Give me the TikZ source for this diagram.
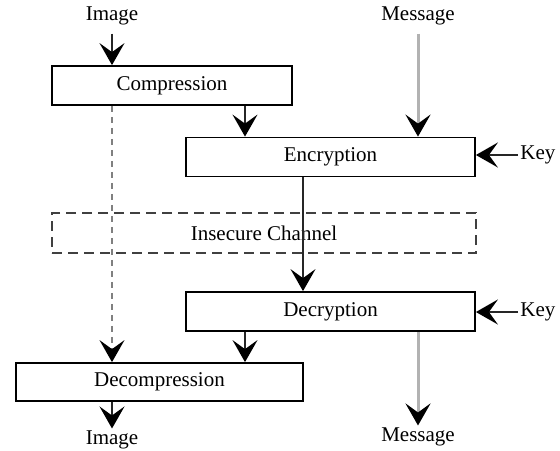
\documentclass[tikz,border=0pt]{standalone}
\usepackage{fontspec}
\setmainfont{Liberation Serif}
\usepackage{tikz}
\usetikzlibrary{arrows.meta, positioning}

\begin{document}
\begin{tikzpicture}[
    x=0.5pt, y=-0.5pt,
    stage/.style={
        draw=black,
        fill=white,
        line width=0.9pt,
        align=center,
        inner sep=0pt,
        minimum height=19.5pt,
        font=\fontsize{10.5}{12}\selectfont
    },
    channel/.style={
        draw=black!75,
        dashed,
        dash pattern=on 5pt off 3pt,
        line width=0.9pt,
        inner sep=0pt,
        minimum width=212pt,
        minimum height=20pt,
        font=\fontsize{10.5}{12}\selectfont
    },
    lbl/.style={
        inner sep=1pt,
        font=\fontsize{10.5}{12}\selectfont
    },
    arrow/.style={
        -{Stealth[length=11pt, width=12.5pt, inset=4.5pt, color=black]},
        line width=0.9pt,
        draw=black!85
    },
    plain/.style={
        -{Stealth[length=11pt, width=12.5pt, inset=4.5pt, color=black]},
        line width=1.5pt,
        draw=black!30
    },
    bypass/.style={
        -{Stealth[length=11pt, width=12.5pt, inset=4.5pt, color=black]},
        line width=0.8pt,
        dashed,
        dash pattern=on 3pt off 2.5pt,
        draw=black!50
    }
]
\useasboundingbox (0,0) rectangle (560,450);

% Columns
\coordinate (colA) at (112,0);
\coordinate (colB) at (245,0);
\coordinate (colC) at (303,0);
\coordinate (colD) at (418,0);

% Nodes
\node (imgin) [lbl] at (112,16) {Image};
\node (msgin) [lbl] at (418,16) {Message};
\node (comp) [stage, minimum width=120pt] at (172,85.5) {Compression};
\node (enc) [stage, minimum width=144.5pt] at (330.5,157) {Encryption};
\node (key1) [lbl, anchor=west] at (518,155) {Key};
\node (chan) [channel] at (264,233) {Insecure Channel};
\node (dec) [stage, minimum width=144.5pt] at (330.5,311.5) {Decryption};
\node (key2) [lbl, anchor=west] at (518,312) {Key};
\node (decomp) [stage, minimum width=143.5pt, minimum height=19pt] at (159.5,382) {Decompression};
\node (imgout) [lbl] at (112,440) {Image};
\node (msgout) [lbl] at (418,437) {Message};

% Paths
\draw [arrow] (imgin.south) ++(0,6) -- (imgin |- comp.north);
\draw [plain] (msgin.south) ++(0,6) -- (msgin |- enc.north);
\draw [arrow] (comp.south -| colB) -- (enc.north -| colB);
\draw [arrow] (key1.west) -- (enc.east |- key1.west);
\draw [arrow] (enc.south -| colC) -- (dec.north -| colC);
\draw [arrow] (key2.west) -- (dec.east |- key2.west);
\draw [arrow] (dec.south -| colB) -- (decomp.north -| colB);
\draw [bypass] (comp.south -| colA) -- (decomp.north -| colA);
\draw [arrow] (decomp.south -| colA) -- (imgout.north);
\draw [plain] (dec.south -| colD) -- (msgout.north);

\end{tikzpicture}
\end{document}
